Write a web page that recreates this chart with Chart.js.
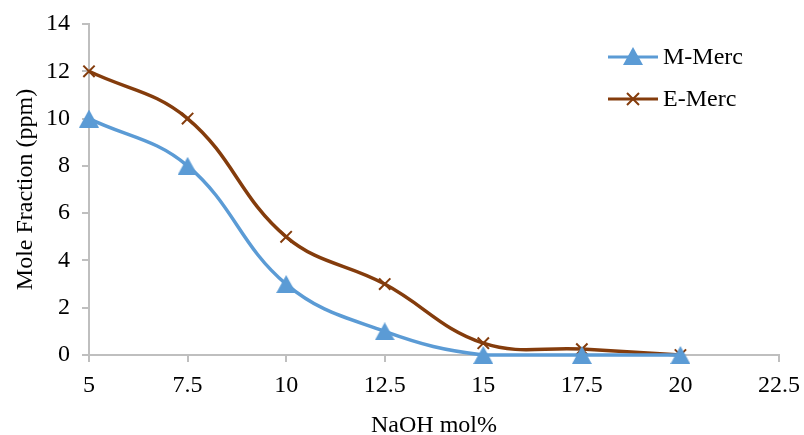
<!DOCTYPE html>
<html>
<head>
<meta charset="utf-8">
<script src="https://cdn.jsdelivr.net/npm/chart.js@4"></script>
<style>
html,body{margin:0;padding:0;background:#fff;}
#wrap{width:804px;height:435px;}
</style>
</head>
<body>
<div id="wrap"><canvas id="c" width="804" height="435"></canvas></div>
<script>
const xValues = [5, 7.5, 10, 12.5, 15, 17.5, 20];
const mMerc = [10, 8, 3, 1, 0, 0, 0];
const eMerc = [12, 10, 5, 3, 0.5, 0.25, 0];
const seriesNames = ['M-Merc', 'E-Merc'];
const xTitle = 'NaOH mol%';
const yTitle = 'Mole Fraction (ppm)';

const BLUE = '#5B9BD5';
const BROWN = '#843C0C';
const GRAY = '#BFBFBF';
const FONT = 'Liberation Serif, Times New Roman, serif';

const toPts = vals => xValues.map((x, i) => ({x: x, y: vals[i]}));

function makeTriangle(w, h, color) {
  const c = document.createElement('canvas');
  c.width = w; c.height = h;
  const g = c.getContext('2d');
  g.fillStyle = color;
  g.beginPath();
  g.moveTo(w / 2, 0);
  g.lineTo(w, h);
  g.lineTo(0, h);
  g.closePath();
  g.fill();
  return c;
}
const triImg = makeTriangle(20, 18, BLUE);

const legendPlugin = {
  id: 'customLegend',
  afterDraw(chart) {
    const ctx = chart.ctx;
    const items = [
      {name: seriesNames[0], color: BLUE, y: 57, marker: 'tri'},
      {name: seriesNames[1], color: BROWN, y: 99, marker: 'x'}
    ];
    ctx.save();
    items.forEach(it => {
      ctx.strokeStyle = it.color;
      ctx.lineWidth = 3;
      ctx.beginPath();
      ctx.moveTo(608, it.y);
      ctx.lineTo(658, it.y);
      ctx.stroke();
      if (it.marker === 'tri') {
        ctx.drawImage(triImg, 633 - 10, it.y - 10);
      } else {
        ctx.lineWidth = 2;
        ctx.beginPath();
        ctx.moveTo(627, it.y - 6); ctx.lineTo(639, it.y + 6);
        ctx.moveTo(639, it.y - 6); ctx.lineTo(627, it.y + 6);
        ctx.stroke();
      }
      ctx.fillStyle = '#000';
      ctx.font = '24px ' + FONT;
      ctx.textBaseline = 'middle';
      ctx.textAlign = 'left';
      ctx.fillText(it.name, 663, it.y + 1);
    });
    ctx.restore();
  }
};

new Chart(document.getElementById('c'), {
  type: 'line',
  data: {
    datasets: [
      {
        label: seriesNames[0],
        data: toPts(mMerc),
        borderColor: BLUE,
        backgroundColor: BLUE,
        borderWidth: 3.5,
        tension: 0.4,
        pointStyle: triImg,
        pointRadius: 10,
        clip: false,
        fill: false
      },
      {
        label: seriesNames[1],
        data: toPts(eMerc),
        borderColor: BROWN,
        backgroundColor: BROWN,
        borderWidth: 3.5,
        tension: 0.4,
        pointStyle: 'crossRot',
        pointRadius: 8,
        pointBorderWidth: 2,
        pointBorderColor: BROWN,
        clip: false,
        fill: false
      }
    ]
  },
  options: {
    responsive: false,
    animation: false,
    layout: {padding: {top: 24, right: 25, left: 0, bottom: 0}},
    plugins: {legend: {display: false}, tooltip: {enabled: false}},
    scales: {
      x: {
        type: 'linear',
        min: 5, max: 22.5,
        afterFit: s => { s.height = 80; s.paddingLeft = 0; s.paddingRight = 0; },
        ticks: {stepSize: 2.5, color: '#000', font: {family: FONT, size: 24}, padding: 9, maxRotation: 0},
        grid: {drawOnChartArea: false, drawTicks: true, tickLength: 7, color: GRAY, lineWidth: 2},
        border: {display: true, color: GRAY, width: 2},
        title: {display: true, text: xTitle, color: '#000', font: {family: FONT, size: 24, lineHeight: 0.8}, padding: {top: 0, bottom: 0}}
      },
      y: {
        min: 0, max: 14,
        afterFit: s => { s.width = 89; s.paddingTop = 0; s.paddingBottom = 0; },
        ticks: {stepSize: 2, color: '#000', font: {family: FONT, size: 24}, padding: 12},
        grid: {drawOnChartArea: false, drawTicks: true, tickLength: 7, color: GRAY, lineWidth: 2},
        border: {display: true, color: GRAY, width: 2},
        title: {display: true, text: yTitle, color: '#000', font: {family: FONT, size: 24, lineHeight: 1.2}, padding: {top: 11, bottom: 0}}
      }
    }
  },
  plugins: [legendPlugin]
});
</script>
</body>
</html>
